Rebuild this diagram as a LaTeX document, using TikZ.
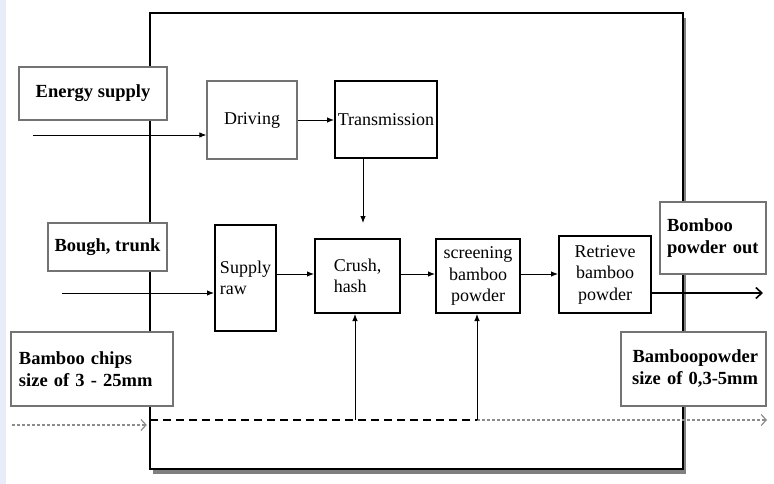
\documentclass[tikz,border=0pt]{standalone}
\usepackage{fontspec}
\setmainfont{Liberation Serif}
\usetikzlibrary{arrows.meta,shadows}

\begin{document}
\begin{tikzpicture}[x=1pt, y=-1pt, font=\fontsize{18}{21.5}\selectfont]
%% the figure is laid out in pixel units of the source drawing (y grows downwards)
%% boxes are filled white so that they hide the machine frame behind them
\tikzstyle{arc}=[-{Latex[length=7pt,width=5.5pt]},line width=0.9pt]
\tikzstyle{outarc}=[-{Straight Barb[length=6pt,width=11pt,line width=1.6pt]},line width=1.8pt]
\tikzstyle{feedarc}=[-{Straight Barb[length=5pt,width=11pt,line width=1.2pt]},black!45,dash pattern=on 3pt off 2pt,line width=1.4pt]
\tikzstyle{feedline}=[dash pattern=on 8pt off 5pt,line width=1.8pt]
\tikzstyle{frame}=[draw,fill=white,line width=2.4pt,inner sep=0pt,drop shadow={shadow xshift=3pt,shadow yshift=-5pt,fill=black!50,opacity=1}]
\tikzstyle{inout}=[draw=black!55,fill=white,line width=1.3pt,inner sep=0pt,font=\fontsize{18.5}{22}\selectfont\bfseries]
\tikzstyle{unit}=[draw=black!55,fill=white,line width=1.3pt,inner sep=0pt,align=center]
\tikzstyle{stage}=[draw,fill=white,line width=2pt,inner sep=0pt,align=center]
%% background strip
\fill[fill={rgb,255:red,232;green,236;blue,248}] (0,0) rectangle (6,484);
\useasboundingbox (0,0) rectangle (774,484);
%% machine frame
\node[frame, minimum width=533pt, minimum height=456pt] at (416.5,241) (Machine) {};
%% free ends of the connectors
\coordinate (EnergyIn) at (33,135);
\coordinate (RawIn) at (62,293);
\coordinate (ChipsIn) at (12,425);
\coordinate (FeedStart) at (150,420);
\coordinate (CrushFeed) at (355,420);
\coordinate (ScreenFeed) at (477,420);
\coordinate (FeedOut) at (767,420);
\coordinate (PowderExit) at (763,293);
%% inner stages
\node[unit, minimum width=90pt, minimum height=78pt] at (252,120) (Driving) {Driving};
\node[stage, minimum width=102pt, minimum height=77pt] at (386,119.5) (Transmission) {Transmission};
\node[stage, minimum width=61pt, minimum height=106pt, align=left] at (245.5,278) (SupplyRaw) {Supply\\raw};
\node[stage, minimum width=85pt, minimum height=74pt, align=left] at (357.5,276) (Crush) {Crush,\\hash};
\node[stage, minimum width=84pt, minimum height=74pt] at (478,276) (Screening) {screening\\bamboo\\powder};
\node[stage, minimum width=92pt, minimum height=77pt] at (605,274.5) (Retrieve) {Retrieve\\bamboo\\powder};
%% arcs between the stages
\draw[arc] (EnergyIn) -- (EnergyIn -| Driving.west);
\draw[arc] (Driving.east) -- (Driving.east -| Transmission.west);
\draw[arc] ([xshift=-23pt]Transmission.south) -- ([xshift=-23pt,yshift=15pt]Transmission.south |- Crush.north);
\draw[arc] (RawIn) -- (RawIn -| SupplyRaw.west);
\draw[arc] ([yshift=2pt]Crush.west -| SupplyRaw.east) -- ([yshift=2pt]Crush.west);
\draw[arc] ([yshift=2pt]Crush.east) -- ([yshift=2pt]Screening.west);
\draw[arc] ([yshift=2pt]Screening.east) -- ([yshift=2pt]Screening.east -| Retrieve.west);
\draw[outarc] (PowderExit -| Retrieve.east) -- (PowderExit);
%% feed line along the bottom of the frame
\draw[feedline] (FeedStart) -- (ScreenFeed);
\draw[feedarc] (ChipsIn) -- ([xshift=-2pt]ChipsIn -| Machine.west);
\draw[feedarc] (ScreenFeed) -- (FeedOut);
\draw[arc] (CrushFeed) -- (CrushFeed |- Crush.south);
\draw[arc] (ScreenFeed) -- (ScreenFeed |- Screening.south);
%% inputs and outputs
\node[inout, minimum width=148pt, minimum height=53pt] at (93,93.5) (EnergySupply) {Energy supply};
\node[inout, minimum width=119pt, minimum height=48pt] at (107.5,247) (BoughTrunk) {Bough, trunk};
\node[inout, minimum width=162pt, minimum height=74pt, text width=146pt, inner xsep=8pt, align=left] at (92,369) (BambooChips) {Bamboo chips\\size of 3 - 25mm};
\node[inout, minimum width=106pt, minimum height=72pt, text width=92pt, inner xsep=7pt, align=left] at (713,238) (PowderOut) {Bomboo\\powder out};
\node[inout, minimum width=145pt, minimum height=74pt, text width=129pt, inner xsep=8pt, align=right] at (693.5,369) (PowderSize) {Bamboopowder\\size of 0,3-5mm};
\end{tikzpicture}
\end{document}
